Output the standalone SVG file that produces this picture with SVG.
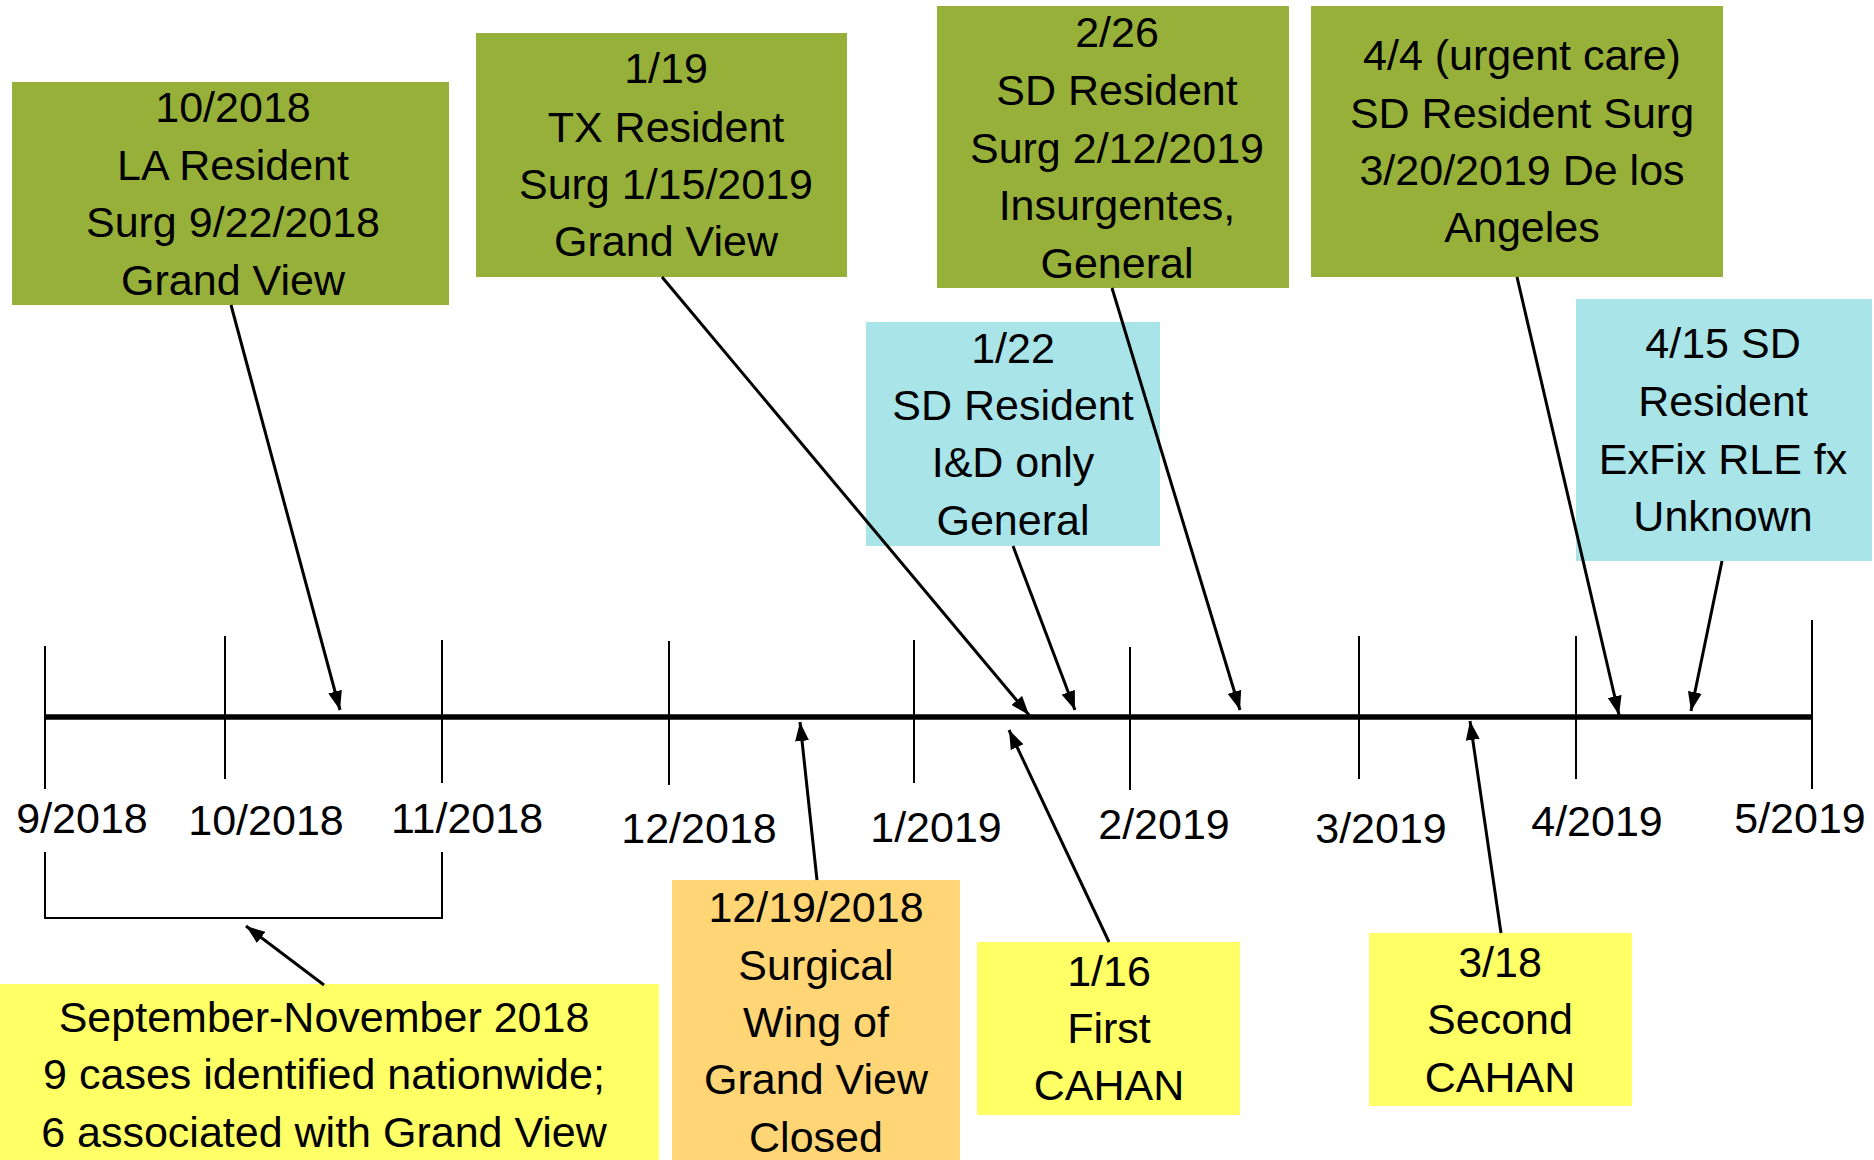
<svg xmlns="http://www.w3.org/2000/svg" width="1874" height="1160" viewBox="0 0 1874 1160">
<defs>
<marker id="ah" markerUnits="userSpaceOnUse" markerWidth="20" markerHeight="14" refX="19" refY="7" orient="auto">
<path d="M0,0 L19,7 L0,14 z" fill="#000"/>
</marker>
<style>
.t{font-family:"Liberation Sans",Arial,sans-serif;font-size:43px;text-anchor:middle;fill:#000}
.g{fill:#97B03A}
.c{fill:#A9E4E8}
.y{fill:#FFFF66}
.o{fill:#FFD575}
.tick{stroke:#000;stroke-width:2;fill:none}
.arr{stroke:#000;stroke-width:3;fill:none;marker-end:url(#ah)}
</style>
</defs>
<rect width="1874" height="1160" fill="#fff"/>

<g id="timeline">
<line x1="45" y1="717" x2="1812" y2="717" stroke="#000" stroke-width="5.5"/>
<line class="tick" x1="45" y1="646" x2="45" y2="789"/>
<line class="tick" x1="225" y1="636" x2="225" y2="779"/>
<line class="tick" x1="442" y1="640" x2="442" y2="783"/>
<line class="tick" x1="669" y1="641" x2="669" y2="785"/>
<line class="tick" x1="914" y1="640" x2="914" y2="783"/>
<line class="tick" x1="1130" y1="647" x2="1130" y2="790"/>
<line class="tick" x1="1359" y1="636" x2="1359" y2="779"/>
<line class="tick" x1="1576" y1="636" x2="1576" y2="779"/>
<line class="tick" x1="1812" y1="620" x2="1812" y2="789"/>
<text class="t" x="82" y="833">9/2018</text>
<text class="t" x="266" y="835">10/2018</text>
<text class="t" x="467" y="833">11/2018</text>
<text class="t" x="699" y="843">12/2018</text>
<text class="t" x="936" y="842">1/2019</text>
<text class="t" x="1164" y="839">2/2019</text>
<text class="t" x="1381" y="843">3/2019</text>
<text class="t" x="1597" y="836">4/2019</text>
<text class="t" x="1800" y="833">5/2019</text>
<path class="tick" d="M45,852 V918 H442 V852"/>
</g>

<g id="n-oct2018">
<rect class="g" x="12" y="82" width="437" height="223"/>
<text class="t" x="233" y="122">10/2018</text>
<text class="t" x="233" y="180">LA Resident</text>
<text class="t" x="233" y="237">Surg 9/22/2018</text>
<text class="t" x="233" y="295">Grand View</text>
</g>

<g id="n-jan19">
<rect class="g" x="476" y="33" width="371" height="244"/>
<text class="t" x="666" y="83">1/19</text>
<text class="t" x="666" y="142">TX Resident</text>
<text class="t" x="666" y="199">Surg 1/15/2019</text>
<text class="t" x="666" y="256">Grand View</text>
</g>

<g id="n-feb26">
<rect class="g" x="937" y="6" width="352" height="282"/>
<text class="t" x="1117" y="47">2/26</text>
<text class="t" x="1117" y="105">SD Resident</text>
<text class="t" x="1117" y="163">Surg 2/12/2019</text>
<text class="t" x="1117" y="220">Insurgentes,</text>
<text class="t" x="1117" y="278">General</text>
</g>

<g id="n-apr4">
<rect class="g" x="1311" y="6" width="412" height="271"/>
<text class="t" x="1522" y="70">4/4 (urgent care)</text>
<text class="t" x="1522" y="128">SD Resident Surg</text>
<text class="t" x="1522" y="185">3/20/2019 De los</text>
<text class="t" x="1522" y="242">Angeles</text>
</g>

<g id="n-jan22">
<rect class="c" x="866" y="322" width="294" height="224"/>
<text class="t" x="1013" y="363">1/22</text>
<text class="t" x="1013" y="420">SD Resident</text>
<text class="t" x="1013" y="477">I&amp;D only</text>
<text class="t" x="1013" y="535">General</text>
</g>

<g id="n-apr15">
<rect class="c" x="1576" y="299" width="296" height="262"/>
<text class="t" x="1723" y="358">4/15 SD</text>
<text class="t" x="1723" y="416">Resident</text>
<text class="t" x="1723" y="474">ExFix RLE fx</text>
<text class="t" x="1723" y="531">Unknown</text>
</g>

<g id="n-sepnov">
<rect class="y" x="0" y="984" width="659" height="176"/>
<text class="t" x="324" y="1032">September-November 2018</text>
<text class="t" x="324" y="1089">9 cases identified nationwide;</text>
<text class="t" x="324" y="1147">6 associated with Grand View</text>
</g>

<g id="n-dec19">
<rect class="o" x="672" y="880" width="288" height="280"/>
<text class="t" x="816" y="922">12/19/2018</text>
<text class="t" x="816" y="980">Surgical</text>
<text class="t" x="816" y="1037">Wing of</text>
<text class="t" x="816" y="1094">Grand View</text>
<text class="t" x="816" y="1152">Closed</text>
</g>

<g id="n-jan16">
<rect class="y" x="977" y="942" width="263" height="173"/>
<text class="t" x="1109" y="986">1/16</text>
<text class="t" x="1109" y="1043">First</text>
<text class="t" x="1109" y="1100">CAHAN</text>
</g>

<g id="n-mar18">
<rect class="y" x="1369" y="933" width="263" height="173"/>
<text class="t" x="1500" y="977">3/18</text>
<text class="t" x="1500" y="1034">Second</text>
<text class="t" x="1500" y="1092">CAHAN</text>
</g>

<g id="connectors">
<line class="arr" x1="231" y1="305" x2="340" y2="710"/>
<line class="arr" x1="662" y1="277" x2="1029" y2="715"/>
<line class="arr" x1="1013" y1="546" x2="1075" y2="710"/>
<line class="arr" x1="1112" y1="288" x2="1240" y2="710"/>
<line class="arr" x1="1517" y1="277" x2="1619" y2="715"/>
<line class="arr" x1="1722" y1="561" x2="1691" y2="711"/>
<line class="arr" x1="817" y1="880" x2="800" y2="722"/>
<line class="arr" x1="1109" y1="942" x2="1009" y2="730"/>
<line class="arr" x1="1501" y1="933" x2="1470" y2="721"/>
<line class="arr" x1="324" y1="985" x2="246" y2="926"/>
</g>
</svg>
